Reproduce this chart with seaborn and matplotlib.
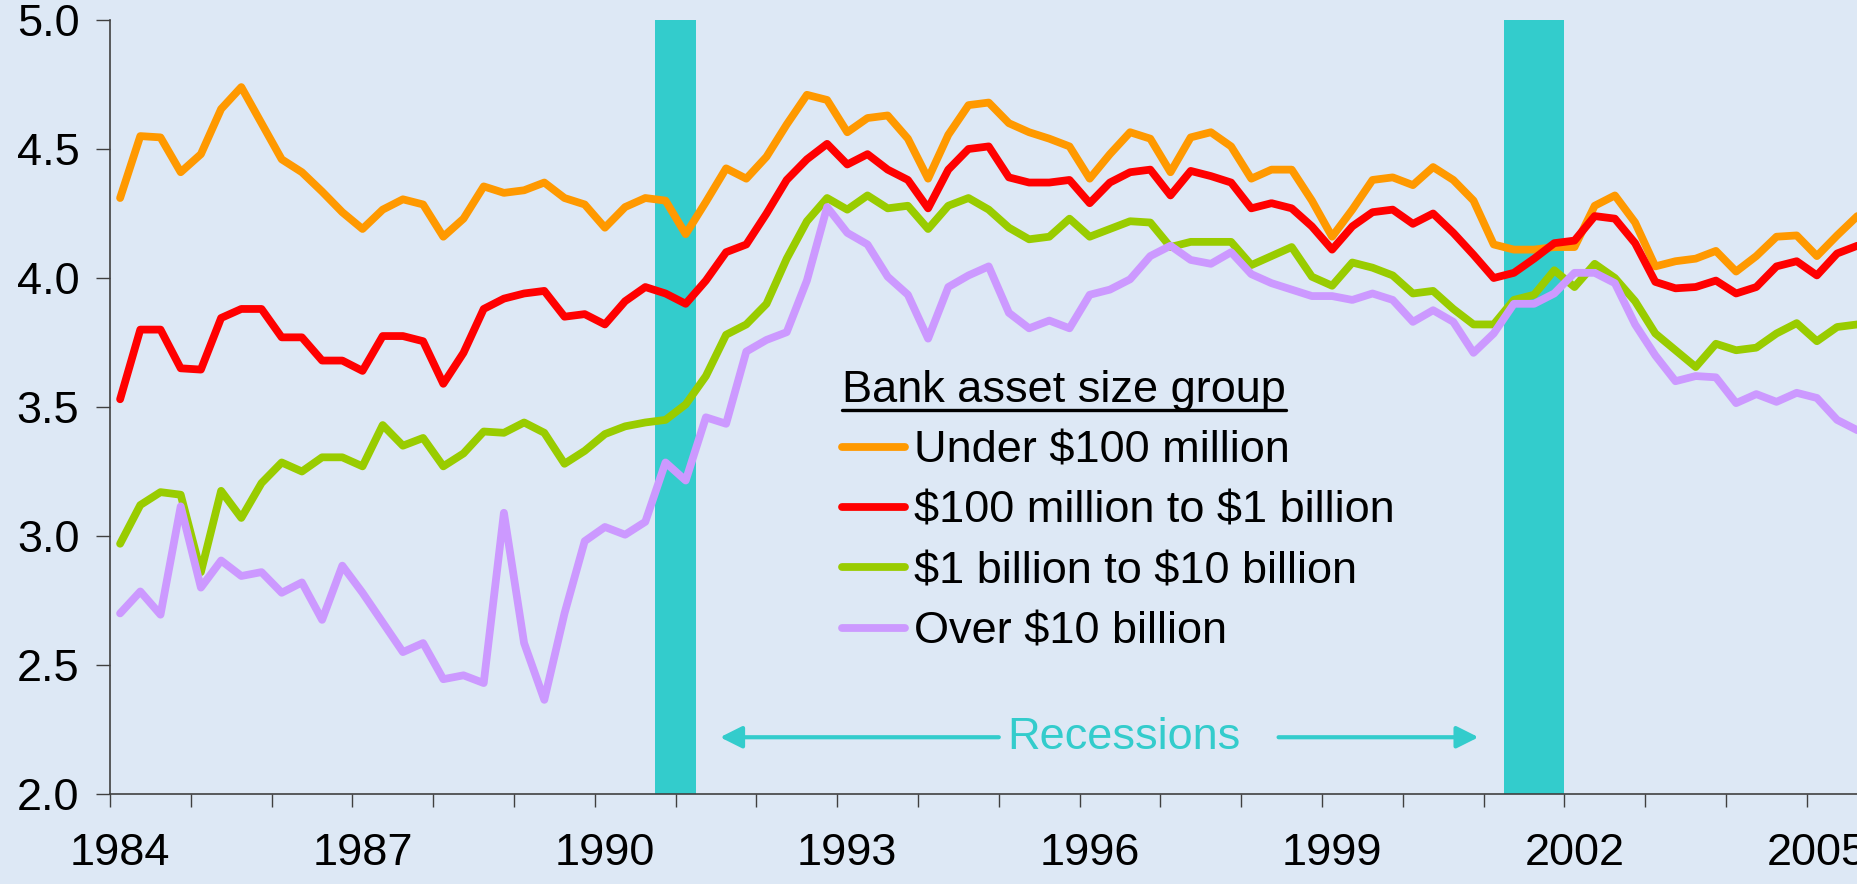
import matplotlib
matplotlib.use("Agg")
import matplotlib.pyplot as plt
import numpy as np
import pandas as pd
import seaborn as sns
from matplotlib.lines import Line2D
from matplotlib.ticker import FormatStrFormatter

# ---------------- data ----------------
years = list(range(1984, 2006))
quarters = [f"{y}Q{q}" for y in years for q in range(1, 5)][:87]

under_100m = [4.31, 4.55, 4.545, 4.41, 4.48, 4.655, 4.74, 4.60, 4.46, 4.41, 4.335, 4.255,
              4.19, 4.265, 4.305, 4.285, 4.16, 4.23, 4.355, 4.33, 4.34, 4.37, 4.31, 4.285,
              4.195, 4.275, 4.31, 4.30, 4.17, 4.295, 4.425, 4.385, 4.47, 4.595, 4.71, 4.69,
              4.565, 4.62, 4.63, 4.54, 4.385, 4.555, 4.67, 4.68, 4.60, 4.565, 4.54, 4.51,
              4.385, 4.48, 4.565, 4.54, 4.41, 4.545, 4.565, 4.51, 4.385, 4.42, 4.42, 4.30,
              4.16, 4.265, 4.38, 4.39, 4.36, 4.43, 4.38, 4.30, 4.13, 4.11, 4.11, 4.12,
              4.12, 4.28, 4.32, 4.215, 4.045, 4.065, 4.075, 4.105, 4.025, 4.085, 4.16, 4.165,
              4.085, 4.165, 4.24]
m100_to_1b = [3.53, 3.80, 3.80, 3.65, 3.645, 3.845, 3.88, 3.88, 3.77, 3.77, 3.68, 3.68,
              3.64, 3.775, 3.775, 3.755, 3.59, 3.71, 3.88, 3.92, 3.94, 3.95, 3.85, 3.86,
              3.82, 3.91, 3.965, 3.94, 3.90, 3.99, 4.10, 4.13, 4.25, 4.38, 4.46, 4.52,
              4.44, 4.48, 4.42, 4.38, 4.27, 4.42, 4.50, 4.51, 4.39, 4.37, 4.37, 4.38,
              4.29, 4.37, 4.41, 4.42, 4.32, 4.415, 4.395, 4.37, 4.27, 4.29, 4.27, 4.20,
              4.11, 4.20, 4.255, 4.265, 4.21, 4.25, 4.175, 4.09, 4.00, 4.02, 4.075, 4.135,
              4.145, 4.24, 4.23, 4.135, 3.985, 3.96, 3.965, 3.99, 3.94, 3.965, 4.045, 4.065,
              4.01, 4.095, 4.125]
b1_to_10b = [2.97, 3.12, 3.17, 3.16, 2.86, 3.175, 3.07, 3.205, 3.285, 3.25, 3.305, 3.305,
             3.27, 3.43, 3.35, 3.38, 3.27, 3.32, 3.405, 3.40, 3.44, 3.40, 3.28, 3.33,
             3.395, 3.425, 3.44, 3.45, 3.51, 3.62, 3.78, 3.82, 3.90, 4.075, 4.22, 4.31,
             4.265, 4.32, 4.27, 4.28, 4.19, 4.28, 4.31, 4.265, 4.195, 4.15, 4.16, 4.23,
             4.16, 4.19, 4.22, 4.215, 4.12, 4.14, 4.14, 4.14, 4.05, 4.085, 4.12, 4.005,
             3.97, 4.06, 4.04, 4.01, 3.94, 3.95, 3.88, 3.82, 3.82, 3.915, 3.935, 4.03,
             3.965, 4.055, 4.00, 3.91, 3.785, 3.72, 3.655, 3.745, 3.72, 3.73, 3.785, 3.825,
             3.755, 3.81, 3.82]
over_10b = [2.70, 2.785, 2.695, 3.115, 2.80, 2.905, 2.845, 2.86, 2.78, 2.82, 2.675, 2.885,
            2.78, 2.665, 2.55, 2.585, 2.445, 2.46, 2.43, 3.09, 2.585, 2.365, 2.70, 2.98,
            3.035, 3.005, 3.055, 3.285, 3.215, 3.46, 3.435, 3.715, 3.76, 3.79, 3.99, 4.275,
            4.175, 4.13, 4.005, 3.935, 3.765, 3.965, 4.01, 4.045, 3.865, 3.805, 3.835, 3.805,
            3.935, 3.955, 3.995, 4.085, 4.125, 4.07, 4.055, 4.10, 4.015, 3.98, 3.955, 3.93,
            3.93, 3.915, 3.94, 3.915, 3.83, 3.875, 3.83, 3.71, 3.785, 3.90, 3.90, 3.94,
            4.02, 4.02, 3.98, 3.82, 3.70, 3.60, 3.62, 3.615, 3.515, 3.55, 3.52, 3.555,
            3.535, 3.45, 3.41]

groups = ["Under $100 million", "$100 million to $1 billion",
          "$1 billion to $10 billion", "Over $10 billion"]
colors = ["#FF9900", "#FF0000", "#99CC00", "#CC99FF"]

recession_start = ["1990Q4", "2001Q2"]
recession_end = ["1991Q1", "2001Q4"]          # inclusive
year_labels = ["1984", "1987", "1990", "1993", "1996", "1999", "2002", "2005"]
y_ticks = [2.0, 2.5, 3.0, 3.5, 4.0, 4.5, 5.0]

# ---------------- styling ----------------
BG = "#DDE8F5"
TEAL = "#33CCCC"
AXC = "#404040"
W, H = 1858, 884
FS = 32.5

sns.set_theme(style="ticks")
plt.rcParams["font.family"] = ["Liberation Sans", "DejaVu Sans"]
plt.rcParams["text.parse_math"] = False

fig = plt.figure(figsize=(W / 100, H / 100), dpi=100)
fig.patch.set_facecolor(BG)
ax = fig.add_axes([110 / W, 90 / H, (W - 110) / W, 774 / H])
ax.set_facecolor(BG)

qidx = {q: i for i, q in enumerate(quarters)}
series = [under_100m, m100_to_1b, b1_to_10b, over_10b]
df = pd.concat([
    pd.DataFrame({"pos": np.arange(len(vals)) + 0.5, "value": vals, "group": g})
    for g, vals in zip(groups, series)
], ignore_index=True)

for s, e in zip(recession_start, recession_end):
    ax.axvspan(qidx[s], qidx[e] + 1, color=TEAL, lw=0, zorder=1)

sns.lineplot(data=df, x="pos", y="value", hue="group", hue_order=groups,
             palette=dict(zip(groups, colors)), linewidth=5.6, legend=False,
             estimator=None, sort=False, ax=ax, zorder=3)

ax.set_xlim(0, (W - 110) / 20.2)
ax.set_ylim(2.0, 5.0)
ax.set_xlabel("")
ax.set_ylabel("")

# x axis: ticks every year, labels every third year centred on Q1
ax.set_xticks(np.arange(0, len(quarters) + 1, 4))
ax.set_xticklabels([])
ax.set_xticks([qidx[f"{y}Q1"] + 0.5 for y in year_labels], labels=year_labels, minor=True)
ax.tick_params(axis="x", which="major", length=9.5, width=1.0, color=AXC, direction="out")
ax.tick_params(axis="x", which="minor", length=0, pad=28, labelsize=FS, labelcolor="black")

ax.set_yticks(y_ticks)
ax.yaxis.set_major_formatter(FormatStrFormatter("%.1f"))
ax.tick_params(axis="y", which="major", length=10, width=1.0, color=AXC, direction="out",
               pad=12, labelsize=FS, labelcolor="black")

for side in ["top", "right"]:
    ax.spines[side].set_visible(False)
for side in ["left", "bottom"]:
    ax.spines[side].set_color(AXC)
    ax.spines[side].set_linewidth(1.2)

# legend
handles = [Line2D([], [], color=c, lw=5.6) for c in colors]
leg = ax.legend(handles, groups, title="Bank asset size group", loc="upper left",
                bbox_to_anchor=(842 / W, 1 - 370 / H), bbox_transform=fig.transFigure,
                frameon=False, fontsize=FS, title_fontsize=FS, handlelength=1.4,
                handletextpad=0.2, labelspacing=0.43, borderpad=0, borderaxespad=0,
                alignment="left")
for t in leg.get_texts():
    t.set_color("black")
leg.get_title().set_color("black")

# recessions annotation
ry = 2.22
ax.text(50.2, ry, "Recessions", color=TEAL, fontsize=FS, ha="center", va="center", zorder=4)
arrow_kw = dict(arrowstyle="-|>", color=TEAL, lw=3, mutation_scale=33, shrinkA=0, shrinkB=0)
ax.annotate("", xy=(30.2, ry), xytext=(44.0, ry), arrowprops=arrow_kw)
ax.annotate("", xy=(67.75, ry), xytext=(57.85, ry), arrowprops=arrow_kw)

# underline the legend title
fig.canvas.draw()
tb = leg.get_title().get_window_extent(fig.canvas.get_renderer())
inv = fig.transFigure.inverted()
(x0, y0), (x1, _) = inv.transform([(tb.x0, tb.y0 + 1), (tb.x1, tb.y0 + 1)])
fig.add_artist(Line2D([x0, x1], [y0, y0], transform=fig.transFigure, color="black", lw=2.4))

fig.savefig("out.png", dpi=100, facecolor=BG)
